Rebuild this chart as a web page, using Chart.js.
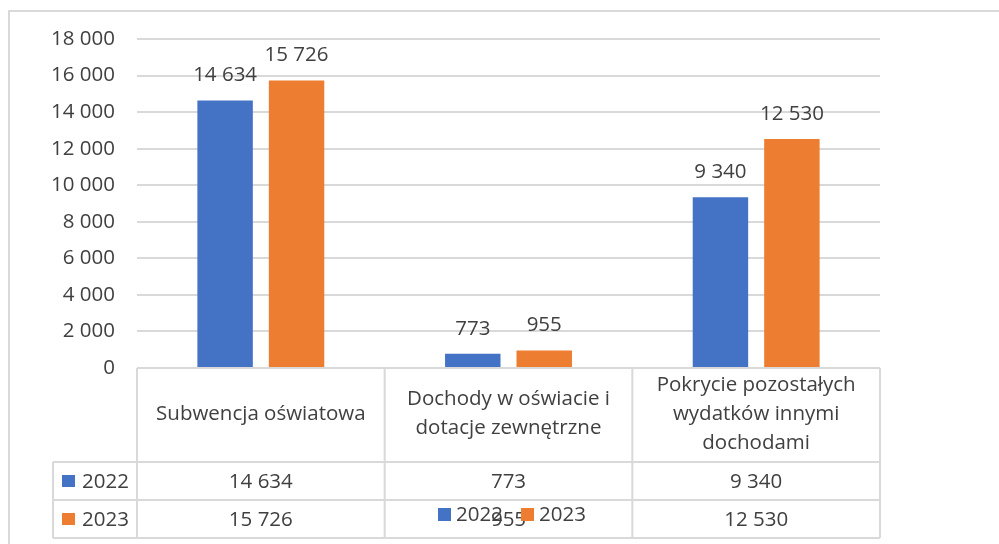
<!DOCTYPE html>
<html>
<head>
<meta charset="utf-8">
<script src="https://cdn.jsdelivr.net/npm/chart.js@4"></script>
<style>
  body { margin: 0; background: #fff; }
  #wrap { width: 999px; height: 544px; position: relative; }
</style>
</head>
<body>
<div id="wrap"><canvas id="chart"></canvas></div>
<script>
const categories = [
    ["Subwencja oświatowa"],
    ["Dochody w oświacie i", "dotacje zewnętrzne"],
    ["Pokrycie pozostałych", "wydatków innymi", "dochodami"]
];
const seriesNames = ["2022", "2023"];
const values2022 = [14634, 773, 9340];
const values2023 = [15726, 955, 12530];
const colors = ["#4472C4", "#ED7D31"];

const FONT = "'Open Sans', 'Noto Sans', sans-serif";
const FSIZE = 20.5;
const TEXT = "#404040";
const LINE = "#d9d9d9";

function fmt(v) {
    return String(v).replace(/\B(?=(\d{3})+(?!\d))/g, " ");
}

// excel style data table + labels + legend under the plot
const tablePlugin = {
    id: 'tablePlugin',
    afterDraw(chart) {
        const ctx = chart.ctx;
        const x = chart.scales.x;
        const area = chart.chartArea;
        const left = area.left, right = area.right, top = area.bottom;
        const step = (right - left) / categories.length;
        const headH = 94, rowH = 38, keyLeft = 53;
        ctx.save();

        // frame
        ctx.strokeStyle = LINE;
        ctx.lineWidth = 2;
        ctx.beginPath();
        ctx.moveTo(9, 544); ctx.lineTo(9, 11); ctx.lineTo(999, 11);
        ctx.stroke();

        // value labels above bars
        ctx.fillStyle = TEXT;
        ctx.font = FSIZE + "px " + FONT;
        ctx.textAlign = "center";
        ctx.textBaseline = "middle";
        chart.data.datasets.forEach((ds, i) => {
            chart.getDatasetMeta(i).data.forEach((bar, j) => {
                ctx.fillText(fmt(ds.data[j]), bar.x, bar.y - 25);
            });
        });

        // table grid
        ctx.lineWidth = 2;
        ctx.beginPath();
        ctx.moveTo(left, top); ctx.lineTo(right, top);
        ctx.moveTo(keyLeft, top + headH); ctx.lineTo(right, top + headH);
        ctx.moveTo(keyLeft, top + headH + rowH); ctx.lineTo(right, top + headH + rowH);
        ctx.moveTo(keyLeft, top + headH + 2 * rowH); ctx.lineTo(right, top + headH + 2 * rowH);
        ctx.moveTo(keyLeft, top + headH); ctx.lineTo(keyLeft, top + headH + 2 * rowH);
        for (let k = 0; k <= categories.length; k++) {
            const cx = left + k * step;
            ctx.moveTo(cx, top); ctx.lineTo(cx, top + headH + 2 * rowH);
        }
        ctx.stroke();

        // header labels
        ctx.fillStyle = TEXT;
        categories.forEach((lines, j) => {
            const cx = x.getPixelForValue(j);
            const lh = 29;
            const y0 = top + 46 - (lines.length - 1) * lh / 2;
            lines.forEach((ln, k) => ctx.fillText(ln, cx, y0 + k * lh));
        });

        // rows
        const rows = [values2022, values2023];
        rows.forEach((vals, r) => {
            const cy = top + headH + r * rowH + rowH / 2 + 1;
            ctx.fillStyle = colors[r];
            ctx.fillRect(keyLeft + 9, cy - 7, 13, 12);
            ctx.fillStyle = TEXT;
            ctx.textAlign = "left";
            ctx.fillText(seriesNames[r], keyLeft + 29, cy);
            ctx.textAlign = "center";
            vals.forEach((v, j) => ctx.fillText(fmt(v), x.getPixelForValue(j), cy));
        });

        // legend (overlaps the table like in the original)
        const ly = 515;
        let lx = 438;
        seriesNames.forEach((name, i) => {
            ctx.fillStyle = colors[i];
            ctx.fillRect(lx, ly - 7, 13, 13);
            ctx.fillStyle = TEXT;
            ctx.textAlign = "left";
            ctx.fillText(name, lx + 18, ly);
            lx += 83;
        });
        ctx.restore();
    }
};

new Chart(document.getElementById("chart"), {
    type: 'bar',
    data: {
        labels: categories.map(c => c.join(" ")),
        datasets: [
            {
                label: seriesNames[0],
                backgroundColor: colors[0],
                data: values2022
            },
            {
                label: seriesNames[1],
                backgroundColor: colors[1],
                data: values2023
            }
        ]
    },
    options: {
        responsive: true,
        maintainAspectRatio: false,
        animation: false,
        layout: { padding: { top: 39, right: 119, bottom: 176, left: 0 } },
        categoryPercentage: 0.577,
        barPercentage: 0.776,
        plugins: {
            legend: { display: false },
            tooltip: { enabled: false }
        },
        scales: {
            x: {
                ticks: { display: false },
                grid: { display: false },
                border: { display: false },
                afterFit: s => { s.height = 0; }
            },
            y: {
                min: 0,
                max: 18000,
                ticks: {
                    stepSize: 2000,
                    padding: 22,
                    color: TEXT,
                    font: { family: FONT, size: FSIZE },
                    callback: v => fmt(v)
                },
                grid: { color: LINE, lineWidth: 2, drawTicks: false },
                border: { display: false },
                afterFit: s => { s.width = 137; }
            }
        }
    },
    plugins: [tablePlugin]
});
</script>
</body>
</html>
